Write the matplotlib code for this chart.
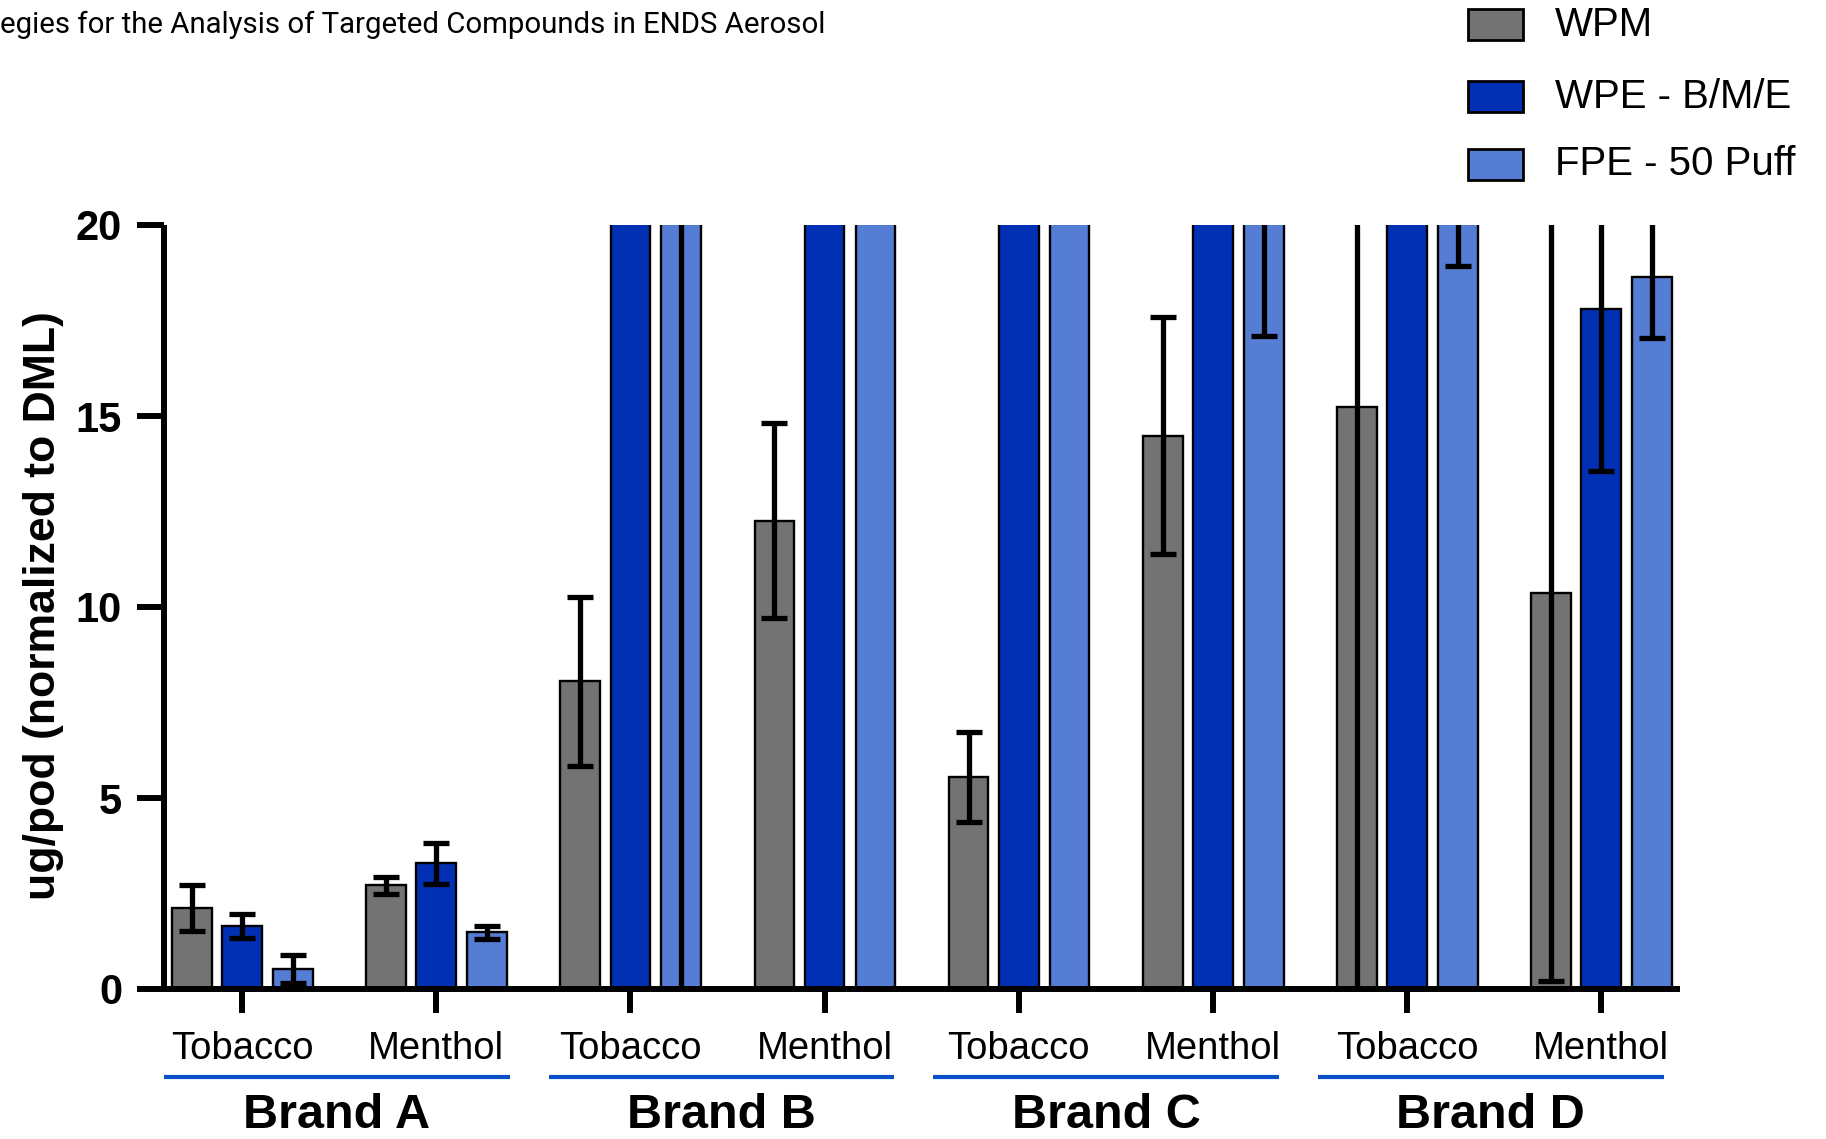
import matplotlib
matplotlib.use("Agg")
import matplotlib.pyplot as plt
import numpy as np
from matplotlib.patches import Rectangle
from matplotlib.lines import Line2D
import matplotlib.transforms as mtransforms

# ---- data ----
brands = ["Brand A", "Brand B", "Brand C", "Brand D"]
flavors = ["Tobacco", "Menthol"]
series_names = ["WPM", "WPE - B/M/E", "FPE - 50 Puff"]

wpm = [2.13, 2.71, 8.05, 12.26, 5.55, 14.48, 15.24, 10.37]
wpm_err = [0.60, 0.23, 2.20, 2.56, 1.19, 3.10, 16.5, 10.16]
wpe = [1.65, 3.29, 36.2, 31.5, 38.7, 43.1, 47.4, 17.80]
wpe_err = [0.32, 0.53, 5.1, 4.3, 6.2, 7.4, 9.8, 4.23]
fpe = [0.52, 1.49, 34.0, 29.6, 33.5, 22.0, 21.0, 18.63]
fpe_err = [0.37, 0.17, 36.0, 3.8, 5.6, 4.9, 2.07, 1.59]

colors = ["#737373", "#0230b5", "#557dd3"]
underline_color = "#0a4fc8"

W, H, DPI = 1826, 1139, 100
fig = plt.figure(figsize=(W / DPI, H / DPI), dpi=DPI)

# axes placement in pixels
ax_left, ax_right, ax_top, ax_bottom = 164, 1680, 225, 989
ax = fig.add_axes([ax_left / W, 1 - ax_bottom / H,
                   (ax_right - ax_left) / W, (ax_bottom - ax_top) / H])

x = np.arange(len(wpm))
width = 0.205
offsets = [-0.258, 0.0, 0.262]
values = [wpm, wpe, fpe]
errors = [wpm_err, wpe_err, fpe_err]

for vals, errs, off, col in zip(values, errors, offsets, colors):
    ax.bar(x + off, vals, width, color=col, edgecolor="black", linewidth=1.7, zorder=2)
    ax.errorbar(x + off, vals, yerr=errs, fmt="none", ecolor="black",
                elinewidth=3.8, capsize=9.6, capthick=3.8, zorder=3)

ax.set_ylim(0, 20)
ax.set_xlim(-0.403, 7.407)
ax.set_yticks([0, 5, 10, 15, 20])
ax.set_xticks(x)
ax.set_xticklabels(flavors * len(brands), fontsize=27.5, family="Liberation Sans")
for lbl in ax.get_yticklabels():
    lbl.set_fontsize(30)
    lbl.set_fontweight("bold")
    lbl.set_family("Liberation Sans")

for side in ["top", "right"]:
    ax.spines[side].set_visible(False)
for side in ["left", "bottom"]:
    ax.spines[side].set_linewidth(4.3)
    ax.spines[side].set_capstyle("butt")

ax.tick_params(axis="x", length=17.3, width=4.3, pad=13)
ax.tick_params(axis="y", length=19.4, width=4.3, pad=10.8)

# brand underlines and labels
trans = mtransforms.blended_transform_factory(ax.transData, ax.transAxes)
line_step, line_len, line_start = 1.981, 1.782, -0.403
label_baseline = (ax_bottom - 1128) / (ax_bottom - ax_top)
for i, b in enumerate(brands):
    x0 = line_start + i * line_step
    ax.add_line(Line2D([x0, x0 + line_len], [-0.1156, -0.1156],
                       transform=trans, color=underline_color, lw=3.0,
                       clip_on=False, solid_capstyle="butt"))
    ax.text(x0 + line_len / 2, label_baseline, b, transform=trans,
            ha="center", va="baseline", fontsize=35, fontweight="bold",
            family="Liberation Sans")

# y label
fig.text(44 / W, 1 - 606 / H, "ug/pod (normalized to DML)", rotation=90,
         ha="center", va="center", fontsize=32, fontweight="bold",
         family="Liberation Sans")

# header line
fig.text(0, 1 - 24.5 / H, "egies for the Analysis of Targeted Compounds in ENDS Aerosol",
         ha="left", va="center", fontsize=21.2, family="Roboto")

# legend
legend_rows = [24.5, 96.6, 164.2]
for name, col, yc in zip(series_names, colors, legend_rows):
    rx, rw, rh = 1468, 55, 31
    fig.add_artist(Rectangle(((rx) / W, 1 - (yc + rh / 2) / H), rw / W, rh / H,
                             transform=fig.transFigure, facecolor=col,
                             edgecolor="black", linewidth=2.0))
    fig.text(1555 / W, 1 - yc / H, name, ha="left", va="center",
             fontsize=29, family="Liberation Sans")

fig.savefig("out.png", dpi=DPI)
